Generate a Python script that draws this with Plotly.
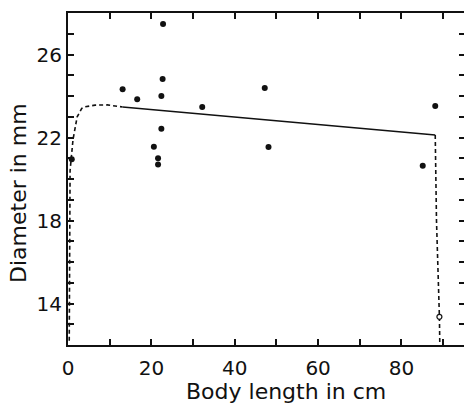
import plotly.graph_objects as go

# Measured specimens: body length (cm) vs. diameter (mm)
body_length = [0.9, 13.1, 16.6, 20.6, 21.6, 21.6, 22.4, 22.4, 22.7, 22.8,
               32.2, 47.2, 48.1, 85.1, 88.1]
diameter = [20.95, 24.32, 23.84, 21.56, 21.0, 20.7, 22.42, 24.0, 24.82, 27.47,
            23.47, 24.39, 21.54, 20.64, 23.52]

# Single specimen drawn as an open circle
open_length = [89.1]
open_diameter = [13.36]

# Fitted growth curve: dashed rise, solid trend, dashed drop
rise_x = [0.3, 0.4, 0.5, 1.2, 2.2, 3.3, 4.1, 6.5, 9.4, 13.1]
rise_y = [12.2, 17.5, 20.4, 21.9, 23.0, 23.4, 23.48, 23.56, 23.57, 23.47]
trend_x = [13.1, 88.1]
trend_y = [23.47, 22.12]
drop_x = [88.1, 88.4, 89.1, 89.2]
drop_y = [22.12, 18.0, 13.36, 12.0]

x_ticks = list(range(0, 100, 10))
x_labels = [str(v) if v % 20 == 0 else "" for v in x_ticks]
y_ticks = list(range(13, 28))
y_labels = [str(v) if v % 4 == 2 else "" for v in y_ticks]

ink = "#111111"
font = "DejaVu Sans"

fig = go.Figure()
fig.add_trace(go.Scatter(x=rise_x, y=rise_y, mode="lines",
                         line=dict(color=ink, width=1.6, dash="4px,3px")))
fig.add_trace(go.Scatter(x=trend_x, y=trend_y, mode="lines",
                         line=dict(color=ink, width=1.6)))
fig.add_trace(go.Scatter(x=drop_x, y=drop_y, mode="lines",
                         line=dict(color=ink, width=1.6, dash="4px,3px")))
fig.add_trace(go.Scatter(x=body_length, y=diameter, mode="markers",
                         marker=dict(color=ink, size=6)))
fig.add_trace(go.Scatter(x=open_length, y=open_diameter, mode="markers",
                         marker=dict(color="white", size=5,
                                     line=dict(color=ink, width=1.2))))
# invisible trace carrying the right-hand tick axis
fig.add_trace(go.Scatter(x=[0], y=[20], yaxis="y2", mode="markers",
                         marker=dict(opacity=0), hoverinfo="skip"))

fig.update_layout(
    width=464, height=403,
    margin=dict(l=68, r=0, t=13, b=58),
    paper_bgcolor="white", plot_bgcolor="white",
    showlegend=False,
    font=dict(family=font, color=ink, size=20),
    xaxis=dict(range=[0, 95], tickvals=x_ticks, ticktext=x_labels,
               ticks="inside", ticklen=6, tickwidth=1.5, tickcolor=ink,
               showline=True, linecolor=ink, linewidth=2, mirror="ticks",
               showgrid=False, zeroline=False, tickfont=dict(size=20),
               ticklabelstandoff=4),
    yaxis=dict(range=[12, 28], tickvals=y_ticks, ticktext=y_labels,
               ticks="inside", ticklen=6, tickwidth=1.5, tickcolor=ink,
               showline=True, linecolor=ink, linewidth=2, mirror=False,
               showgrid=False, zeroline=False, tickfont=dict(size=20)),
    yaxis2=dict(range=[12, 28], overlaying="y", side="right",
                tickvals=y_ticks, showticklabels=False,
                ticks="inside", ticklen=5, tickwidth=1.5, tickcolor=ink,
                showline=False, showgrid=False, zeroline=False),
    annotations=[
        dict(text="Body length in cm", xref="paper", yref="paper",
             x=(286 - 68) / 396, y=-(391 - 345) / 332,
             xanchor="center", yanchor="middle",
             showarrow=False, font=dict(size=22, family=font, color=ink)),
        dict(text="Diameter in mm", xref="paper", yref="paper",
             x=(18 - 68) / 396, y=(345 - 193) / 332, xanchor="center",
             yanchor="middle", textangle=-90, showarrow=False,
             font=dict(size=22, family=font, color=ink)),
    ],
)

fig.write_html("out.html")
